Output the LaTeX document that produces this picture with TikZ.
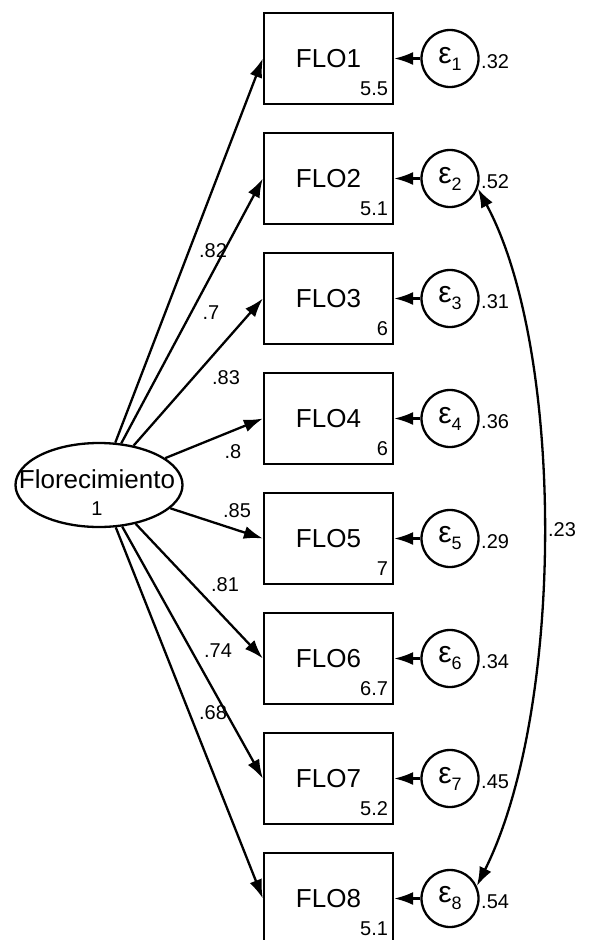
\documentclass[tikz,border=0pt]{standalone}
\usepackage{fontspec}
\setmainfont{Liberation Sans}
\usetikzlibrary{arrows.meta,shapes.geometric}

\begin{document}
\begin{tikzpicture}[x=1pt, y=-1pt,
    observed/.style={draw, line width=2.3pt, minimum width=129pt, minimum height=91pt, inner sep=0pt, font=\fontsize{26}{28}\selectfont},
    latent/.style={draw, ellipse, line width=2.3pt, minimum width=167pt, minimum height=84pt, inner sep=0pt},
    errnode/.style={draw, circle, line width=2.3pt, minimum size=57pt, inner sep=0pt},
    regarrow/.style={line width=2.3pt, -{Latex[length=19pt,width=13pt]}},
    num/.style={font=\fontsize{20}{22}\selectfont, inner sep=0pt}]
    % Frame
    \useasboundingbox (0,0) rectangle (591,940);
    \clip (0,0) rectangle (591,940);

    % Latent factor
    \node[latent] (flor) at (99,485) {};
    \node[font=\fontsize{26}{28}\selectfont, inner sep=0pt] (florname) at (97,479) {Florecimiento};
    \node[num] (florvar) at (97,509) {1};

    % Indicators, errors and loadings
    \foreach \i/\ymid/\icept/\lam/\lx/\ly/\var in {%
        1/58.5/5.5/.82/213/251/.32,
        2/178.5/5.1/.7/211/313/.52,
        3/298.5/6/.83/226/378/.31,
        4/418.5/6/.8/233/452/.36,
        5/538.5/7/.85/237/511/.29,
        6/658.5/6.7/.81/225/585/.34,
        7/778.5/5.2/.74/218/651/.45,
        8/898.5/5.1/.68/213/713/.54}{
        \node[observed] (flo\i) at (328.5,\ymid) {FLO\i};
        \node[num, anchor=south east] (icept\i) at ([xshift=-6pt,yshift=9pt]flo\i.south east) {\icept};
        \node[errnode] (eps\i) at (450,\ymid) {\fontsize{30}{30}\selectfont ε\raisebox{-7pt}{\fontsize{18}{18}\selectfont\i}};
        \node[num, anchor=west] (var\i) at (481,\ymid+3) {\var};
        \draw[regarrow] (eps\i) -- (flo\i);
        \draw[regarrow] (flor) -- (flo\i.west);
        \node[num] (lam\i) at (\lx,\ly) {\lam};
    }

    % Error covariance
    \draw[line width=2.3pt, {Latex[length=19pt,width=13pt]}-{Latex[length=19pt,width=13pt]}]
        (eps2.-20) .. controls (565,350) and (565,710) .. (eps8.25);
    \node[num] (cov28) at (562,530) {.23};
\end{tikzpicture}
\end{document}
